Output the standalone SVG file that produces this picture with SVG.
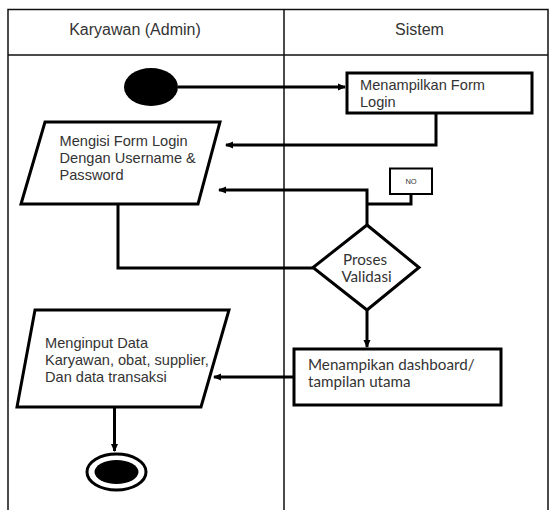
<svg xmlns="http://www.w3.org/2000/svg" width="549" height="510" viewBox="0 0 549 510">
<style>
.lane{fill:none;stroke:#111;stroke-width:1.5}
.shape{fill:#fff;stroke:#000;stroke-width:3}
.conn{fill:none;stroke:#000;stroke-width:3}
.hd{font-family:"Liberation Sans",Arial,sans-serif;font-size:16px;fill:#333}
.t{font-family:"Liberation Sans",Arial,sans-serif;font-size:14.6px;fill:#333}
.c{font-family:Lato,"Open Sans",sans-serif;font-size:15.2px;fill:#333}
</style>
<defs>
<marker id="ah" markerWidth="8" markerHeight="8" refX="7" refY="4" orient="auto" markerUnits="userSpaceOnUse">
<path d="M0,0.5 L8,4 L0,7.5 Z" fill="#000"/>
</marker>
</defs>
<rect width="549" height="510" fill="#fff"/>
<g id="lanes">
<path class="lane" d="M8,520 V9.5 H548 V520 M8,55 H548 M284,9.5 V520"/>
<text class="hd" x="135" y="35" text-anchor="middle">Karyawan (Admin)</text>
<text class="hd" x="419.5" y="35" text-anchor="middle">Sistem</text>
</g>
<g id="connectors">
<path class="conn" d="M178,87 H345" marker-end="url(#ah)" stroke-width="2"/>
<path class="conn" d="M436,113 V145 H226" marker-end="url(#ah)"/>
<path class="conn" d="M367,225 V190 H219" marker-end="url(#ah)"/>
<path class="conn" d="M367,204 H411 V194"/>
<path class="conn" d="M118,204 V268 H313"/>
<path class="conn" d="M367,310 V347" marker-end="url(#ah)"/>
<path class="conn" d="M294,377 H214" marker-end="url(#ah)"/>
<path class="conn" d="M114.5,407 V451" marker-end="url(#ah)"/>
</g>
<g id="start">
<ellipse cx="151" cy="87" rx="27" ry="19" fill="#000"/>
</g>
<g id="form-login">
<rect class="shape" x="347" y="73" width="185" height="40"/>
<text class="t" x="360" y="90">Menampilkan Form</text>
<text class="t" x="360" y="106.5">Login</text>
</g>
<g id="isi-login">
<polygon class="shape" points="45,122 220,122 198,204 21,204"/>
<text class="t" x="59.5" y="145.5">Mengisi Form Login</text>
<text class="t" x="59.5" y="162.5">Dengan Username &amp;</text>
<text class="t" x="59.5" y="179.5">Password</text>
</g>
<g id="no">
<rect x="390" y="168.5" width="42" height="25.5" fill="#fff" stroke="#000" stroke-width="2"/>
<text x="411" y="184" text-anchor="middle" font-family="'Liberation Sans',Arial,sans-serif" font-size="7.5" fill="#333">NO</text>
</g>
<g id="validasi">
<polygon class="shape" points="367,225 419,267.5 367,310 313,267.5"/>
<text class="c" x="365" y="264.5" text-anchor="middle" font-size="14.5">Proses</text>
<text class="c" x="366.5" y="281.5" text-anchor="middle" font-size="14.5">Validasi</text>
</g>
<g id="dashboard">
<rect class="shape" x="294" y="349" width="207" height="56"/>
<text class="c" x="308" y="369.5">Menampikan dashboard/</text>
<text class="c" x="308" y="387">tampilan utama</text>
</g>
<g id="input-data">
<polygon class="shape" points="35,310 229,310 201,407 17,407"/>
<text class="t" x="45" y="347.5">Menginput Data</text>
<text class="t" x="45" y="364.5">Karyawan, obat, supplier,</text>
<text class="t" x="45" y="381.5">Dan data transaksi</text>
</g>
<g id="end">
<ellipse cx="116.5" cy="472" rx="29.5" ry="18" fill="#fff" stroke="#000" stroke-width="3"/>
<ellipse cx="116.5" cy="472" rx="22" ry="12" fill="#000"/>
</g>
</svg>
